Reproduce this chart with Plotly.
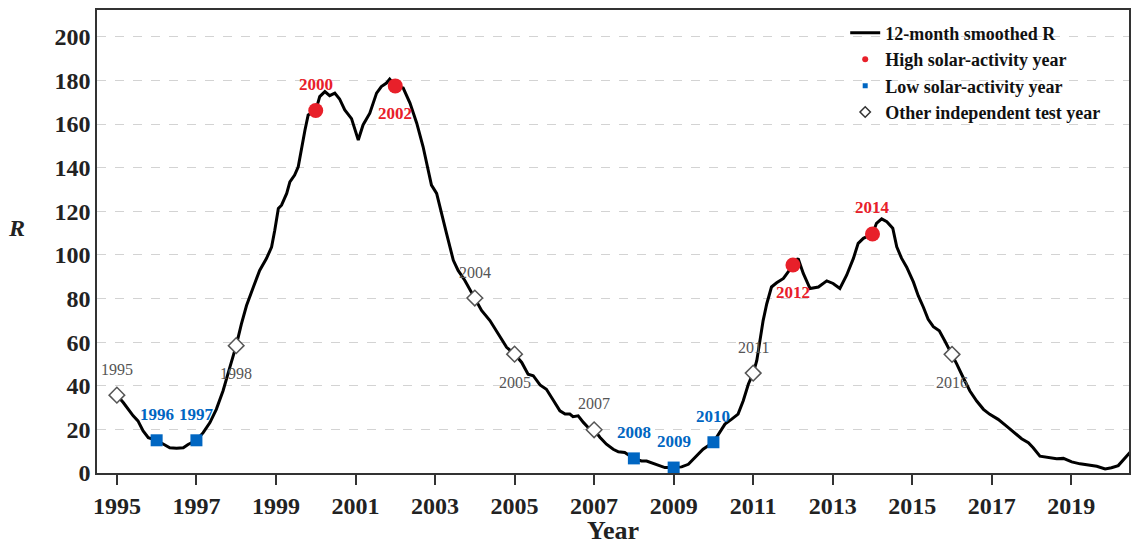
import plotly.graph_objects as go

# ---- data ----
years = [1995.0, 1995.16, 1995.41, 1995.53, 1995.66, 1995.79, 1996.0, 1996.2, 1996.33, 1996.5,
         1996.67, 1996.79, 1997.0, 1997.17, 1997.34, 1997.5, 1997.67, 1997.84, 1998.0, 1998.13,
         1998.26, 1998.43, 1998.59, 1998.76, 1998.89, 1998.97, 1999.06, 1999.14, 1999.27, 1999.35,
         1999.47, 1999.56, 1999.64, 1999.73, 1999.81, 2000.0, 2000.10, 2000.23, 2000.35, 2000.48,
         2000.6, 2000.73, 2000.9, 2001.07, 2001.19, 2001.36, 2001.53, 2001.65, 2001.78, 2001.86,
         2002.0, 2002.2, 2002.37, 2002.54, 2002.7, 2002.83, 2002.91, 2003.04, 2003.16, 2003.29,
         2003.46, 2003.58, 2003.75, 2004.0, 2004.17, 2004.38, 2004.63, 2004.8, 2005.0, 2005.18,
         2005.34, 2005.47, 2005.64, 2005.8, 2005.97, 2006.14, 2006.27, 2006.39, 2006.47, 2006.6,
         2006.73, 2006.85, 2007.0, 2007.15, 2007.31, 2007.48, 2007.61, 2007.77, 2008.0, 2008.19,
         2008.32, 2008.49, 2008.65, 2008.78, 2009.0, 2009.2, 2009.37, 2009.53, 2009.74, 2010.0,
         2010.12, 2010.29, 2010.46, 2010.62, 2010.75, 2010.88, 2011.0, 2011.09, 2011.17, 2011.25,
         2011.34, 2011.46, 2011.59, 2011.76, 2011.88, 2012.0, 2012.13, 2012.26, 2012.43, 2012.64,
         2012.85, 2013.01, 2013.18, 2013.35, 2013.52, 2013.64, 2013.77, 2014.0, 2014.10, 2014.23,
         2014.36, 2014.51, 2014.61, 2014.73, 2014.86, 2015.03, 2015.15, 2015.28, 2015.4, 2015.53,
         2015.68, 2015.82, 2016.0, 2016.12, 2016.28, 2016.45, 2016.62, 2016.79, 2016.95, 2017.16,
         2017.37, 2017.58, 2017.75, 2017.92, 2018.04, 2018.21, 2018.42, 2018.63, 2018.80, 2019.01,
         2019.22, 2019.47, 2019.64, 2019.85, 2020.01, 2020.18, 2020.31, 2020.43, 2020.5]
r_smoothed = [35.7, 32.3, 26.2, 23.9, 19.3, 16.2, 15.0, 13.1, 11.6, 11.4,
              11.6, 13.1, 15.0, 18.5, 23.1, 29.2, 37.7, 48.4, 58.4, 68.3,
              76.8, 85.2, 92.9, 98.3, 103.6, 111.3, 121.3, 122.8, 128.2, 133.5,
              136.6, 140.4, 148.9, 157.3, 164.2, 166.2, 172.6, 174.9, 173.0, 174.2,
              171.5, 166.5, 162.5, 152.7, 159.6, 165.0, 174.2, 177.2, 178.8, 180.6,
              177.5, 176.5, 169.6, 160.4, 149.6, 138.9, 132.0, 128.2, 119.0, 109.8,
              97.5, 92.9, 88.3, 80.2, 74.5, 69.9, 62.2, 57.6, 54.5, 50.7,
              45.3, 44.6, 40.4, 38.4, 33.5, 28.5, 27.0, 27.0, 25.8, 26.2,
              23.2, 20.9, 19.8, 16.3, 13.2, 10.9, 9.7, 9.4, 6.7, 5.5,
              5.5, 4.3, 3.2, 2.5, 2.5, 2.8, 4.0, 7.1, 10.9, 14.1,
              17.8, 22.4, 24.7, 27.0, 33.1, 40.8, 45.8, 51.5, 60.7, 69.9,
              77.5, 85.3, 87.2, 89.2, 92.2, 95.4, 98.4, 91.5, 84.6, 85.3,
              88.1, 86.9, 84.6, 90.7, 98.4, 105.3, 107.6, 109.6, 114.5, 116.5,
              115.2, 112.2, 103.7, 98.5, 94.4, 87.5, 81.3, 76.0, 70.5, 67.1,
              65.2, 60.5, 54.4, 49.9, 43.8, 37.6, 33.0, 29.2, 26.9, 24.6,
              21.5, 18.5, 15.7, 13.9, 11.6, 7.7, 7.0, 6.5, 6.7, 5.1,
              4.2, 3.4, 3.1, 1.9, 2.4, 3.4, 6.2, 9.0, 10.0]

high_years = [2000, 2002, 2012, 2014]
high_r = [166.2, 177.5, 95.4, 109.6]
low_years = [1996, 1997, 2008, 2009, 2010]
low_r = [15.0, 15.0, 6.7, 2.5, 14.1]
other_years = [1995, 1998, 2004, 2005, 2007, 2011, 2016]
other_r = [35.7, 58.4, 80.2, 54.5, 19.8, 45.8, 54.4]

x_ticks = list(range(1995, 2021, 2))
y_ticks = list(range(0, 201, 20))

# label placement (style): +1 above, -1 below
high_pos = [1, -1, -1, 1]
low_pos = [1, 1, 1, 1, 1]
other_pos = [1, -1, 1, -1, 1, 1, -1]

RED = "#E8202A"
BLUE = "#0066C2"
GREY = "#555555"
FONT = "Liberation Serif"

fig = go.Figure()

fig.add_trace(go.Scatter(x=years, y=r_smoothed, mode="lines",
                         line=dict(color="black", width=3),
                         name="<b>12-month smoothed R</b>", showlegend=True))
fig.add_trace(go.Scatter(x=high_years, y=high_r, mode="markers",
                         marker=dict(color=RED, size=15, symbol="circle"),
                         showlegend=False))
fig.add_trace(go.Scatter(x=low_years, y=low_r, mode="markers",
                         marker=dict(color=BLUE, size=12, symbol="square"),
                         showlegend=False))
fig.add_trace(go.Scatter(x=other_years, y=other_r, mode="markers",
                         marker=dict(color="white", size=12, symbol="diamond",
                                     line=dict(color=GREY, width=1.5)),
                         showlegend=False))
# legend-only entries (small symbols as in reference)
fig.add_trace(go.Scatter(x=[None], y=[None], mode="markers",
                         marker=dict(color=RED, size=6, symbol="circle"),
                         name="<b>High solar-activity year</b>"))
fig.add_trace(go.Scatter(x=[None], y=[None], mode="markers",
                         marker=dict(color=BLUE, size=5, symbol="square"),
                         name="<b>Low solar-activity year</b>"))
fig.add_trace(go.Scatter(x=[None], y=[None], mode="markers",
                         marker=dict(color="white", size=8, symbol="diamond",
                                     line=dict(color="#333333", width=1.5)),
                         name="<b>Other independent test year</b>"))

def add_labels(xs, ys, pos, color, bold):
    for xv, yv, p in zip(xs, ys, pos):
        txt = f"<b>{xv}</b>" if bold else str(xv)
        fig.add_annotation(x=xv, y=yv, text=txt, showarrow=False,
                           yshift=26 if p > 0 else -28,
                           font=dict(family=FONT, size=17 if bold else 16, color=color))

add_labels(high_years, high_r, high_pos, RED, True)
add_labels(low_years, low_r, low_pos, BLUE, True)
add_labels(other_years, other_r, other_pos, GREY, False)

fig.add_annotation(x=-0.088, y=0.53, xref="paper", yref="paper", text="<b><i>R</i></b>",
                   showarrow=False, font=dict(family=FONT, size=24, color="#222222"))

# page body has an 8px default margin: size the figure so the plot lands where the reference has it
fig.update_layout(
    width=1131, height=537,
    margin=dict(l=89, r=10, t=2, b=72, autoexpand=False),
    paper_bgcolor="white", plot_bgcolor="white",
    font=dict(family=FONT, color="#222222"),
    showlegend=True,
    legend=dict(x=0.725, y=0.99, xanchor="left", yanchor="top",
                bgcolor="rgba(0,0,0,0)", borderwidth=0,
                font=dict(family=FONT, size=18, color="#111111"),
                tracegroupgap=0),
    xaxis=dict(range=[1994.5, 2020.45], tickvals=x_ticks,
               ticktext=[f"<b>{t}</b>" for t in x_ticks],
               tickfont=dict(family=FONT, size=24, color="#222222"),
               ticks="outside", ticklen=10, tickwidth=1.5, tickcolor="#333333",
               showline=True, linecolor="#333333", linewidth=1.5, mirror=True,
               showgrid=False, zeroline=False, automargin=False,
               title=dict(text="<b>Year</b>", font=dict(family=FONT, size=26, color="#222222"),
                          standoff=2)),
    yaxis=dict(range=[0, 212.3], tickvals=y_ticks,
               ticktext=[f"<b>{t}</b>" for t in y_ticks],
               tickfont=dict(family=FONT, size=24, color="#222222"),
               ticks="", showline=True, linecolor="#333333", linewidth=1.5, mirror=True,
               showgrid=True, gridcolor="#D3D3D3", griddash="dash", gridwidth=1,
               zeroline=False, automargin=False),
)

fig.write_html("out.html")
